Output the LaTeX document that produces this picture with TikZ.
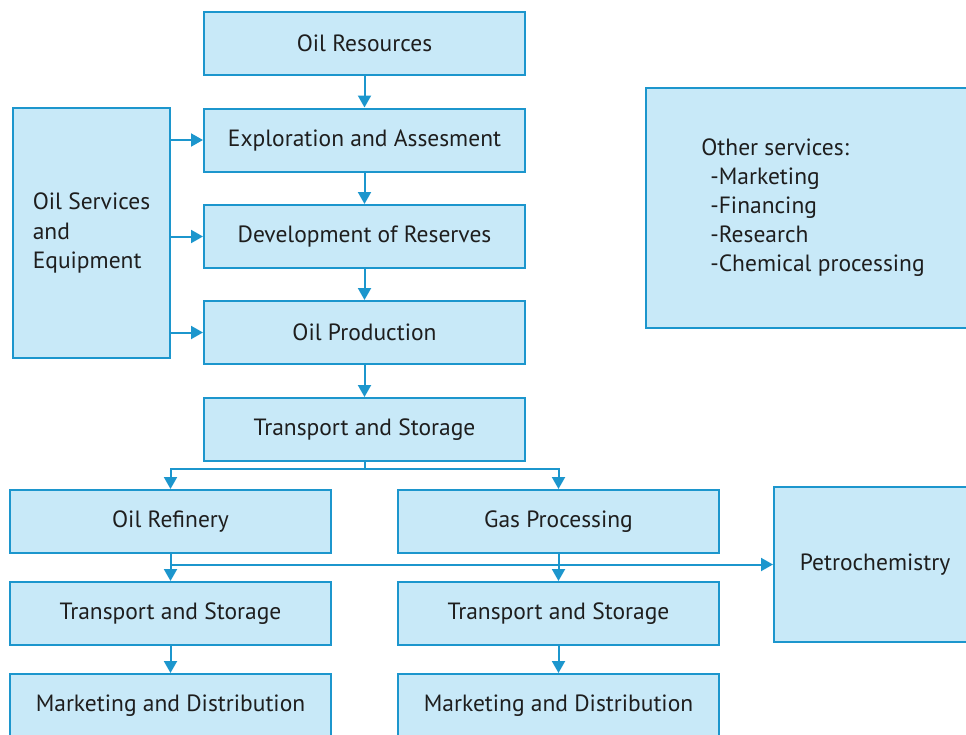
\documentclass[tikz,border=0pt]{standalone}
\usepackage{fontspec}
\setmainfont{PT Sans}
\usetikzlibrary{arrows.meta}
\definecolor{boxfill}{RGB}{200,233,248}
\definecolor{boxline}{RGB}{28,150,205}
\definecolor{txt}{RGB}{30,30,30}
\begin{document}
\begin{tikzpicture}[x=1pt,y=-1pt,
  box/.style={draw=boxline,fill=boxfill,line width=2pt,minimum width=321pt,minimum height=63pt,inner sep=0pt,text=txt,font=\fontsize{23.5}{29.5}\selectfont},
  arr/.style={draw=boxline,line width=2pt,-{Triangle[length=12pt,width=13pt]}},
  ln/.style={draw=boxline,line width=2pt}]
\useasboundingbox (0,0) rectangle (966,734);
\clip (0,0) rectangle (966,734);
\node[box] (res) at (364.5,43.5) {Oil Resources};
\node[box] (expl) at (364.5,140) {Exploration and Assesment};
\node[box] (dev) at (364.5,236.5) {Development of Reserves};
\node[box] (prod) at (364.5,332.5) {Oil Production};
\node[box] (ts) at (364.5,429.5) {Transport and Storage};
\node[box,minimum width=157pt,minimum height=250pt,align=left] (serv) at (91.5,233) {Oil Services\\and\\Equipment};
\node[box,minimum width=334pt,minimum height=240pt,align=left,font=\fontsize{23.5}{29}\selectfont] (other) at (813,208) {Other services:\\\hspace*{9pt}-Marketing\\\hspace*{9pt}-Financing\\\hspace*{9pt}-Research\\\hspace*{9pt}-Chemical processing};
\node[box] (refi) at (170.5,521.5) {Oil Refinery};
\node[box] (gas) at (558.5,521.5) {Gas Processing};
\node[box] (tsl) at (170.5,613.5) {Transport and Storage};
\node[box] (tsr) at (558.5,613.5) {Transport and Storage};
\node[box] (mkl) at (170.5,705.5) {Marketing and Distribution};
\node[box] (mkr) at (558.5,705.5) {Marketing and Distribution};
\node[box,minimum width=202pt,minimum height=155pt] (petro) at (875,564.5) {Petrochemistry};
\draw[arr] (res) -- (expl);
\draw[arr] (expl) -- (dev);
\draw[arr] (dev) -- (prod);
\draw[arr] (prod) -- (ts);
\draw[arr] (serv.east |- expl) -- (expl.west);
\draw[arr] (serv.east |- dev) -- (dev.west);
\draw[arr] (serv.east |- prod) -- (prod.west);
\draw[ln] (ts.south) -- ++(0,7) coordinate (j);
\draw[arr] (j) -| (refi.north);
\draw[arr] (j) -| (gas.north);
\draw[arr] (refi) -- (tsl);
\draw[arr] (gas) -- (tsr);
\draw[arr] (refi.south |- petro.west) -- (petro.west);
\draw[arr] (tsl) -- (mkl);
\draw[arr] (tsr) -- (mkr);
\end{tikzpicture}
\end{document}
